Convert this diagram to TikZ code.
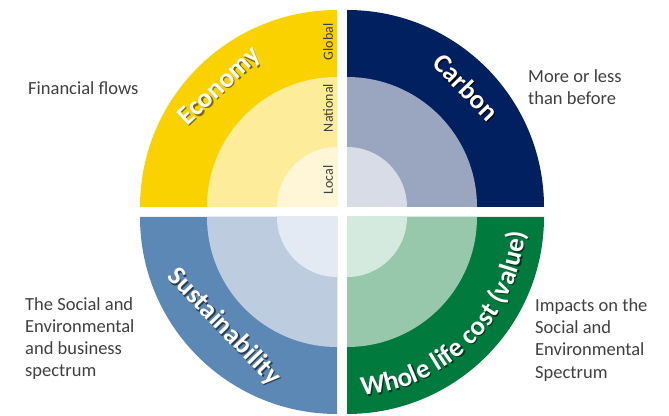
\documentclass[tikz,border=0pt]{standalone}
\usepackage{fontspec}
\setmainfont{Carlito}
\usetikzlibrary{decorations.text}

\definecolor{ecoA}{RGB}{250,210,0}
\definecolor{ecoB}{RGB}{253,236,153}
\definecolor{ecoC}{RGB}{254,246,214}
\definecolor{carA}{RGB}{0,32,96}
\definecolor{carB}{RGB}{154,166,192}
\definecolor{carC}{RGB}{215,220,231}
\definecolor{susA}{RGB}{91,136,180}
\definecolor{susB}{RGB}{189,205,223}
\definecolor{susC}{RGB}{227,234,243}
\definecolor{wlcA}{RGB}{0,122,61}
\definecolor{wlcB}{RGB}{151,200,171}
\definecolor{wlcC}{RGB}{213,234,222}
\definecolor{note}{RGB}{64,64,64}

\begin{document}
\begin{tikzpicture}[x=1pt,y=1pt,
    side/.style={align=left,anchor=base west,inner sep=0pt,text=note,font=\fontsize{18.5}{22.3}\selectfont},
    title/.style={text=white,inner sep=0pt,font=\bfseries\fontsize{27}{27}\selectfont},
    shade/.style={title,text=#1},
    level/.style={rotate=90,inner sep=0pt,text=note,font=\fontsize{14}{14}\selectfont}]
    \useasboundingbox (0,0) rectangle (669,415);
    % quarter discs, outer to inner
    \foreach \cx/\cy/\a/\ca/\cb/\cc in {337/208/90/ecoA/ecoB/ecoC, 347/208/0/carA/carB/carC,
                                       337/198/180/susA/susB/susC, 347/198/270/wlcA/wlcB/wlcC}
        \foreach \r/\col in {197/\ca,130/\cb,60/\cc}
            \fill[fill=\col] (\cx,\cy) -- ++(\a:\r) arc[start angle=\a,delta angle=90,radius=\r] -- cycle;

    % titles
    \node[shade=ecoA!50!black,rotate=43] (eco-sh) at (221.3,326.7) {Economy};
    \node[title,rotate=43] (eco) at (220,328) {Economy};
    \node[shade=black,rotate=-46] (carbon-sh) at (467.3,326.7) {Carbon};
    \node[title,rotate=-46] (carbon) at (466,328) {Carbon};
    \node[shade=susA!45!black,rotate=-46] (sus-sh) at (225.3,86.7) {Sustainability};
    \node[title,rotate=-46] (sus) at (224,88) {Sustainability};
    \path[decorate,decoration={text along path,text align=center,
        text={|\bfseries\fontsize{27}{27}\selectfont\color{wlcA!45!black}|Whole life cost (value)}}]
        (348.3,196.7) ++(-88:179) arc[start angle=-88,end angle=-2,radius=179];
    \path[decorate,decoration={text along path,text align=center,
        text={|\bfseries\fontsize{27}{27}\selectfont\color{white}|Whole life cost (value)}}]
        (347,198) ++(-88:179) arc[start angle=-88,end angle=-2,radius=179];

    % scale
    \node[level] (global) at (328,373) {Global};
    \node[level] (national) at (328,307) {National};
    \node[level] (local) at (328,235) {Local};

    % side notes (anchored on the last line)
    \node[side] (flows) at (28,320) {Financial flows};
    \node[side] (before) at (528,310) {More or less\\than before};
    \node[side] (business) at (25,38) {The Social and\\Environmental\\and business\\spectrum};
    \node[side] (impacts) at (535,37) {Impacts on the\\Social and\\Environmental\\Spectrum};
\end{tikzpicture}
\end{document}
